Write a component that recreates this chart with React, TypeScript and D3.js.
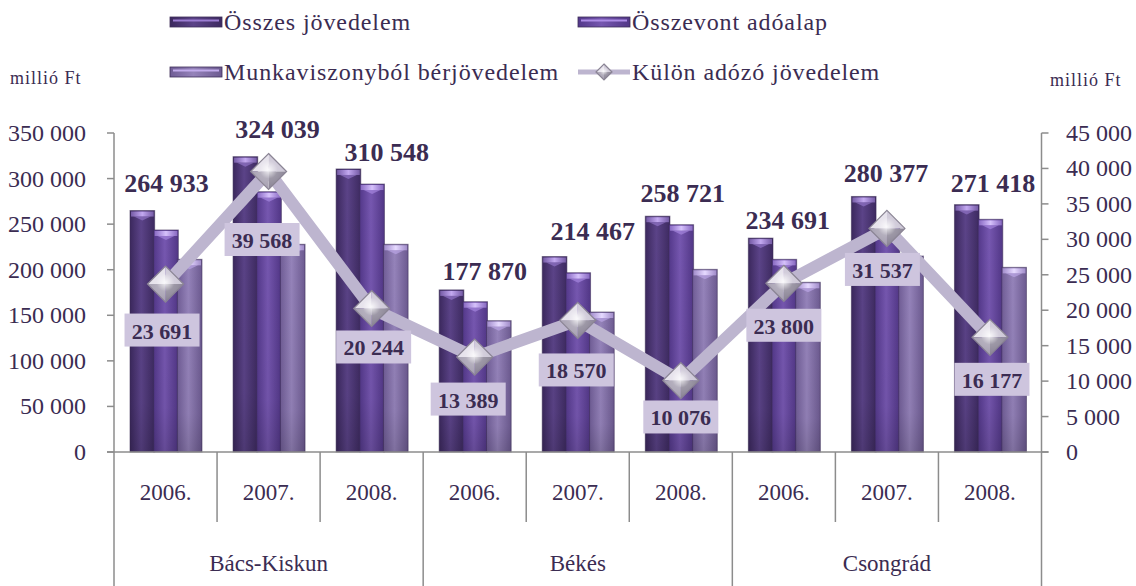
import React from "react";
import * as d3 from "d3";

const years = ["2006.", "2007.", "2008.", "2006.", "2007.", "2008.", "2006.", "2007.", "2008."];
const groups = ["Bács-Kiskun", "Békés", "Csongrád"];
const seriesNames = ["Összes jövedelem", "Összevont adóalap", "Munkaviszonyból bérjövedelem", "Külön adózó jövedelem"];
const osszes = [264933, 324039, 310548, 177870, 214467, 258721, 234691, 280377, 271418];
const osszevont = [243600, 285600, 294000, 164900, 196700, 249400, 211400, 250000, 255300];
const munka = [211400, 227900, 227900, 144100, 153600, 200400, 186200, 215000, 202600];
const kulon = [23691, 39568, 20244, 13389, 18570, 10076, 23800, 31537, 16177];
const leftTicks = [0, 50000, 100000, 150000, 200000, 250000, 300000, 350000];
const rightTicks = [0, 5000, 10000, 15000, 20000, 25000, 30000, 35000, 40000, 45000];

// label placement nudges (manually dragged labels in the original)
const topLabelNudge = [[1, -27], [9, -27], [15, -16], [10, -18], [15, -25], [2, -23], [4, -18], [-1, -23], [3, -21]];
const lineLabelNudge = [[-3.5, 46], [-6.5, 68], [2, 38.5], [-6.5, 42], [-1.5, 49.6], [0, 36.4], [0, 42], [-4.5, 41], [2, 42]];

const W = 1136, H = 586;
const FONT = "Liberation Serif, Times New Roman, DejaVu Serif, serif";
const TXT = "#3b2c52";
const AX = "#8c8c8c";

const loc = d3.formatLocale({ decimal: ",", thousands: " ", grouping: [3], currency: ["", ""] });
const fmt = loc.format(",");

const barStyles = [
  { l: "#3b285d", m: "#5b4388", r: "#3d2a60", cap: "#9b7dd2", capHi: "#c3a9f0" },
  { l: "#53388a", m: "#7657b0", r: "#513686", cap: "#ad8de6", capHi: "#d6c2fb" },
  { l: "#705d96", m: "#9583ba", r: "#6c5a90", cap: "#c2acec", capHi: "#e6daff" },
];

export default function App() {
  const x0 = 114, x1 = 1041.5, yZero = 452, yTop = 133;
  const x = d3.scaleBand<number>().domain(d3.range(years.length)).range([x0, x1]).padding(0);
  const xs = d3.scaleBand<number>().domain([0, 1, 2]).range([16, 87]).padding(0);
  const yL = d3.scaleLinear().domain([0, 350000]).range([yZero, yTop]);
  const yR = d3.scaleLinear().domain([0, 45000]).range([yZero, yTop]);
  const bw = x.bandwidth();
  const cx = (i: number) => (x(i) as number) + bw / 2;
  const series = [osszes, osszevont, munka];

  const linePath = d3.line<number>().x((_, i) => cx(i)).y((d) => yR(d))(kulon) || "";

  const diamond = (c: number, cy: number, h: number, key: string) => {
    const t = [c, cy - h], r = [c + h, cy], b = [c, cy + h], l = [c - h, cy];
    const m = [c, cy];
    const p = (pts: number[][]) => pts.map((q) => q.join(",")).join(" ");
    return (
      <g key={key}>
        <polygon points={p([t, l, m])} fill="#e4e0ea" />
        <polygon points={p([t, r, m])} fill="#cbc5d5" />
        <polygon points={p([r, b, m])} fill="#8c8697" />
        <polygon points={p([l, b, m])} fill="#a7a1b2" />
        <polygon points={p([t, r, b, l])} fill="url(#dmHi)" stroke="#8a8494" strokeWidth={1.2} />
      </g>
    );
  };

  const legendSwatch = (lx: number, ly: number, si: number) => (
    <g>
      <rect x={lx} y={ly - 5} width={52} height={10} fill={`url(#bar${si})`} stroke="#3e2e58" strokeWidth={0.8} />
      <rect x={lx + 3} y={ly - 2.5} width={46} height={2} fill={barStyles[si].cap} />
    </g>
  );

  return (
    <svg width={W} height={H} style={{ position: "absolute", left: 0, top: 0, background: "#fff", fontFamily: FONT }}>
      <defs>
        {barStyles.map((s, i) => (
          <linearGradient key={i} id={`bar${i}`} x1="0" x2="1" y1="0" y2="0">
            <stop offset="0" stopColor={s.l} />
            <stop offset="0.45" stopColor={s.m} />
            <stop offset="1" stopColor={s.r} />
          </linearGradient>
        ))}
        {barStyles.map((s, i) => (
          <linearGradient key={"c" + i} id={`cap${i}`} x1="0" x2="1" y1="0" y2="0">
            <stop offset="0" stopColor={s.cap} stopOpacity={0.6} />
            <stop offset="0.5" stopColor={s.capHi} />
            <stop offset="1" stopColor={s.cap} stopOpacity={0.6} />
          </linearGradient>
        ))}
        <linearGradient id="shade" x1="0" x2="0" y1="0" y2="1">
          <stop offset="0" stopColor="#000" stopOpacity={0} />
          <stop offset="0.8" stopColor="#000" stopOpacity={0.04} />
          <stop offset="1" stopColor="#000" stopOpacity={0.15} />
        </linearGradient>
        <radialGradient id="dmHi" cx="0.5" cy="0.45" r="0.5">
          <stop offset="0" stopColor="#ffffff" stopOpacity={0.85} />
          <stop offset="0.5" stopColor="#ffffff" stopOpacity={0.15} />
          <stop offset="1" stopColor="#ffffff" stopOpacity={0} />
        </radialGradient>
      </defs>

      {/* Legend */}
      <g fontSize={24} fill={TXT} letterSpacing={0.9}>
        {legendSwatch(170, 22, 0)}
        <text x={224} y={22} dominantBaseline="central">{seriesNames[0]}</text>
        {legendSwatch(578, 22, 1)}
        <text x={632} y={22} dominantBaseline="central">{seriesNames[1]}</text>
        {legendSwatch(170, 72, 2)}
        <text x={224} y={72} dominantBaseline="central">{seriesNames[2]}</text>
        <line x1={578} x2={630} y1={72} y2={72} stroke="#bdb5cf" strokeWidth={5} />
        {diamond(604, 72, 8, "lg")}
        <text x={632} y={72} dominantBaseline="central">{seriesNames[3]}</text>
      </g>

      <text x={10} y={78} fontSize={18} letterSpacing={1} fill={TXT} dominantBaseline="central">millió Ft</text>
      <text x={1050} y={80} fontSize={18} letterSpacing={1} fill={TXT} dominantBaseline="central">millió Ft</text>

      {/* Left axis */}
      <g>
        <line x1={x0} x2={x0} y1={yTop} y2={H} stroke={AX} strokeWidth={1.5} />
        {leftTicks.map((t) => (
          <g key={t}>
            <line x1={x0 - 7} x2={x0} y1={yL(t)} y2={yL(t)} stroke={AX} strokeWidth={1.5} />
            <text x={86} y={yL(t)} textAnchor="end" dominantBaseline="central" fontSize={24} fill={TXT}>{fmt(t)}</text>
          </g>
        ))}
      </g>
      {/* Right axis */}
      <g>
        <line x1={x1} x2={x1} y1={yTop} y2={H} stroke={AX} strokeWidth={1.5} />
        {rightTicks.map((t) => (
          <g key={t}>
            <line x1={x1} x2={x1 + 7} y1={yR(t)} y2={yR(t)} stroke={AX} strokeWidth={1.5} />
            <text x={1066} y={yR(t)} textAnchor="start" dominantBaseline="central" fontSize={24} fill={TXT}>{fmt(t)}</text>
          </g>
        ))}
      </g>

      {/* Bars */}
      {series.map((vals, si) =>
        vals.map((v, i) => {
          const bx = (x(i) as number) + (xs(si) as number);
          const w = xs.bandwidth() + 1;
          const by = yL(v);
          const h = yZero - by;
          return (
            <g key={`b${si}-${i}`}>
              <rect x={bx} y={by} width={w} height={h} fill={`url(#bar${si})`} stroke="#3b2b55" strokeOpacity={0.55} strokeWidth={1} />
              <rect x={bx} y={by} width={w} height={h} fill="url(#shade)" />
              <rect x={bx + 1} y={by + 1} width={w - 2} height={5} fill={`url(#cap${si})`} />
              <polygon points={`${bx + 4},${by + 6} ${bx + w - 4},${by + 6} ${bx + w / 2},${by + 10}`} fill={barStyles[si].cap} opacity={0.6} />
            </g>
          );
        })
      )}

      {/* X axis */}
      <line x1={x0 - 7} x2={x1 + 7} y1={yZero} y2={yZero} stroke={AX} strokeWidth={1.5} />
      {d3.range(1, years.length).map((i) => {
        const isGroup = i % 3 === 0;
        return <line key={"d" + i} x1={x(i) as number} x2={x(i) as number} y1={yZero} y2={isGroup ? H : 522} stroke={AX} strokeWidth={1.5} />;
      })}
      {years.map((yv, i) => (
        <text key={"y" + i} x={cx(i)} y={492} textAnchor="middle" dominantBaseline="central" fontSize={23} fill={TXT}>{yv}</text>
      ))}
      {groups.map((g, gi) => (
        <text key={g} x={((x(gi * 3) as number) + (x(gi * 3 + 2) as number) + bw) / 2} y={563} textAnchor="middle" dominantBaseline="central" fontSize={23} fill={TXT}>{g}</text>
      ))}

      {/* Line */}
      <path d={linePath} fill="none" stroke="#bdb5cf" strokeWidth={12} strokeLinejoin="round" />
      {kulon.map((v, i) => diamond(cx(i), yR(v), 18, "dm" + i))}

      {/* Line labels */}
      {kulon.map((v, i) => {
        const lx = cx(i) + lineLabelNudge[i][0];
        const ly = yR(v) + lineLabelNudge[i][1];
        return (
          <g key={"ll" + i}>
            <rect x={lx - 37.5} y={ly - 16.5} width={75} height={33} fill="#cec5de" />
            <text x={lx} y={ly + 1} textAnchor="middle" dominantBaseline="central" fontSize={22} fontWeight="bold" fill={TXT}>{fmt(v)}</text>
          </g>
        );
      })}

      {/* Top labels */}
      {osszes.map((v, i) => (
        <text key={"tl" + i} x={cx(i) + topLabelNudge[i][0]} y={yL(v) + topLabelNudge[i][1]} textAnchor="middle" dominantBaseline="central" fontSize={26} fontWeight="bold" fill={TXT}>{fmt(v)}</text>
      ))}
    </svg>
  );
}
